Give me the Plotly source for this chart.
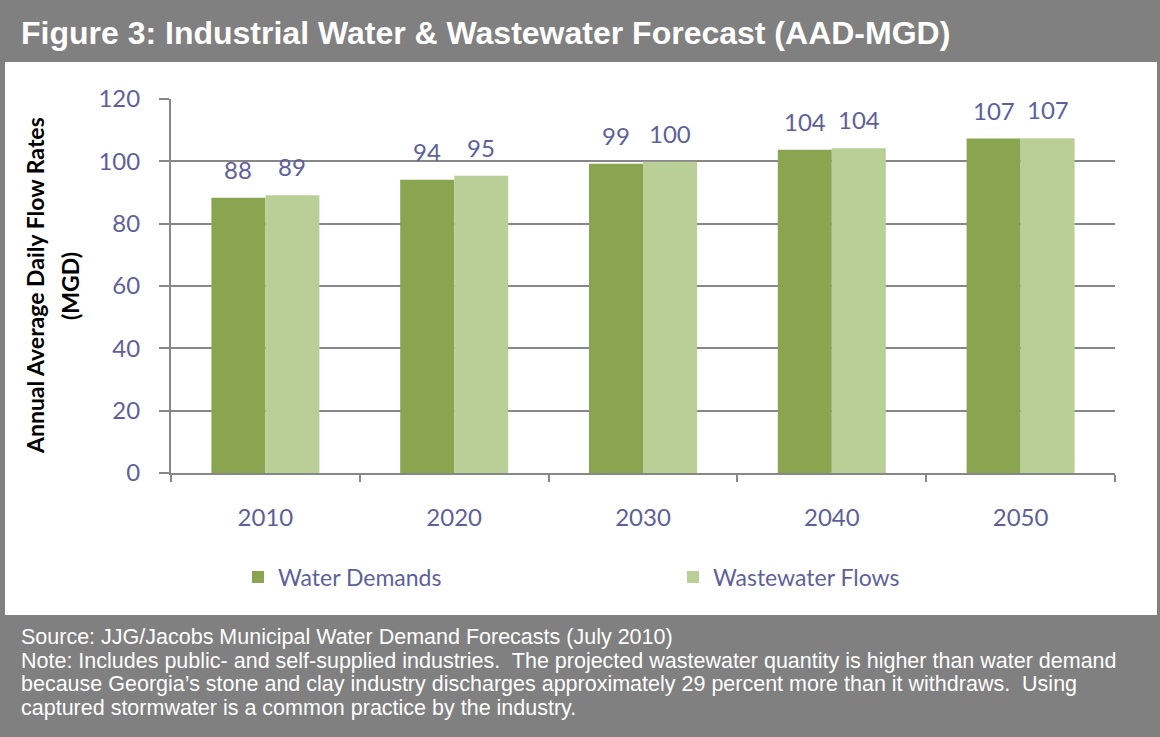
import plotly.graph_objects as go

years = ["2010", "2020", "2030", "2040", "2050"]
water_demands = [88.3, 94.1, 99.2, 103.7, 107.3]
wastewater_flows = [89.1, 95.4, 99.9, 104.2, 107.4]
series_names = ["Water Demands", "Wastewater Flows"]
y_ticks = [0, 20, 40, 60, 80, 100, 120]

title_text = "Figure 3: Industrial Water & Wastewater Forecast (AAD-MGD)"
footer_lines = [
    "Source: JJG/Jacobs Municipal Water Demand Forecasts (July 2010)",
    "Note: Includes public- and self-supplied industries.  The projected wastewater quantity is higher than water demand",
    "because Georgia\u2019s stone and clay industry discharges approximately 29 percent more than it withdraws.  Using",
    "captured stormwater is a common practice by the industry.",
]

DARK = "#8aa54f"
LIGHT = "#bacf98"
LABEL = "#5f5f9c"
GRID = "#878787"
BAND = "#808080"
FONT = "Lato, Open Sans, sans-serif"
SANS = "Liberation Sans, Arial, sans-serif"

W, H = 1160, 737
L, R, T, B = 171, 1115, 99, 473  # plot area in pixels


def px_x(p):
    return (p - L) / (R - L)


def px_y(p):
    return (B - p) / (B - T)


fig = go.Figure()
for name, vals, col in [(series_names[0], water_demands, DARK),
                        (series_names[1], wastewater_flows, LIGHT)]:
    fig.add_trace(go.Bar(name=name, x=years, y=vals, marker=dict(color=col, line=dict(width=0))))

annotations = []
offsets = [-27, 27]
for vals, dx in zip([water_demands, wastewater_flows], offsets):
    for i, v in enumerate(vals):
        annotations.append(dict(x=i, y=v, xref="x", yref="y", text=f"{v:.0f}",
                                showarrow=False, xshift=dx, yshift=12,
                                xanchor="center", yanchor="bottom",
                                font=dict(family=FONT, size=24, color=LABEL)))

# title
annotations.append(dict(x=px_x(19), y=px_y(33), xref="paper", yref="paper", text=f"<b>{title_text}</b>",
                        showarrow=False, xanchor="left", yanchor="middle",
                        font=dict(family=SANS, size=32, color="white")))
# y axis title (two lines)
annotations.append(dict(x=px_x(35), y=px_y(286), xref="paper", yref="paper",
                        text="<b>Annual Average Daily Flow Rates</b>", showarrow=False, textangle=-90,
                        xanchor="center", yanchor="middle",
                        font=dict(family=FONT, size=23, color="black")))
annotations.append(dict(x=px_x(70), y=px_y(286), xref="paper", yref="paper",
                        text="<b>(MGD)</b>", showarrow=False, textangle=-90,
                        xanchor="center", yanchor="middle",
                        font=dict(family=FONT, size=23, color="black")))
# footer
for i, line in enumerate(footer_lines):
    annotations.append(dict(x=px_x(19), y=px_y(637 + i * 23.7), xref="paper", yref="paper", text=line,
                            showarrow=False, xanchor="left", yanchor="middle",
                            font=dict(family=SANS, size=21.5, color="white")))

shapes = [dict(type="rect", xref="paper", yref="paper", x0=px_x(5), x1=px_x(1157), y0=px_y(615), y1=px_y(62),
               fillcolor="white", line=dict(width=0), layer="below")]

fig.update_layout(
    width=W, height=H,
    margin=dict(l=L, r=W - R, t=T, b=H - B, pad=0),
    paper_bgcolor=BAND, plot_bgcolor="white",
    barmode="group", bargap=0.428, bargroupgap=0,
    showlegend=True,
    legend=dict(orientation="h", x=px_x(238), y=px_y(577), xanchor="left", yanchor="middle",
                entrywidth=390, entrywidthmode="pixels",
                font=dict(family=FONT, size=23, color=LABEL), bgcolor="rgba(0,0,0,0)"),
    annotations=annotations, shapes=shapes,
    font=dict(family=FONT),
)
fig.update_xaxes(type="category", range=[-0.5, 4.5], showline=True, linecolor=GRID, linewidth=2,
                 ticks="outside", tickson="boundaries", ticklen=7, tickcolor=GRID, tickwidth=2,
                 tickfont=dict(family=FONT, size=24, color=LABEL), ticklabelstandoff=22,
                 showgrid=False, fixedrange=True)
fig.update_yaxes(range=[0, 120], tickvals=y_ticks, showline=True, linecolor=GRID, linewidth=2,
                 ticks="outside", ticklen=10, tickcolor=GRID, tickwidth=2,
                 showgrid=True, gridcolor=GRID, gridwidth=2, zeroline=False,
                 tickfont=dict(family=FONT, size=24, color=LABEL), ticklabelstandoff=14,
                 fixedrange=True)

fig.write_html("out.html", config={"displayModeBar": False},
               post_script="document.body.style.margin='0';document.body.style.padding='0';")
